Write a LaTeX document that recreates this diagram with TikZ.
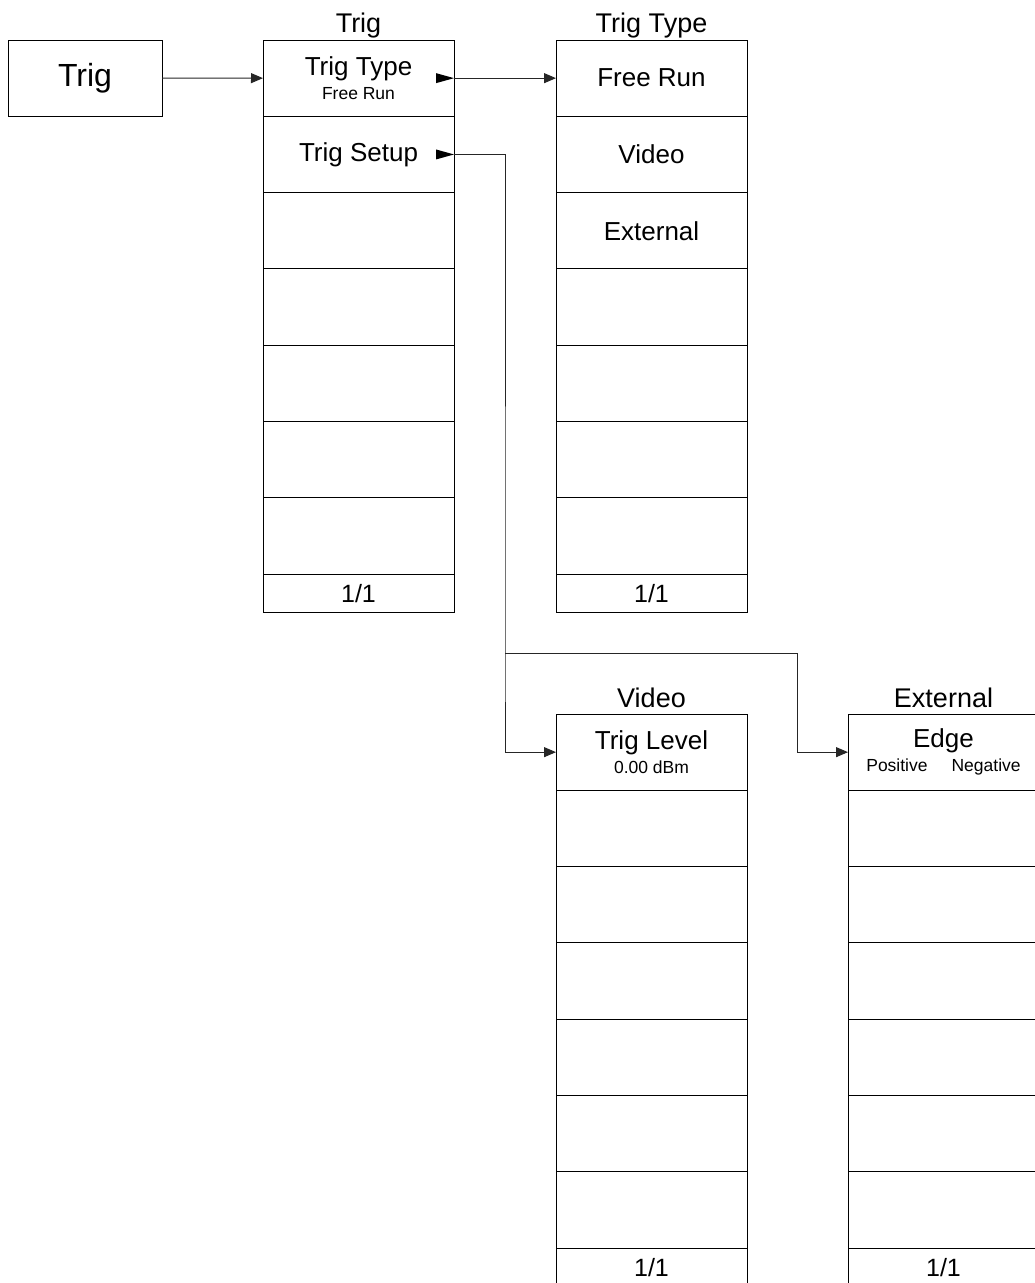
\documentclass[tikz,border=0pt]{standalone}
\usepackage{fontspec}
\setmainfont{Liberation Sans}
\usetikzlibrary{arrows.meta, positioning}
\newcommand\subtxt[1]{{\fontsize{17.5}{18}\selectfont #1}}

\begin{document}
\begin{tikzpicture}[
                x=1pt, y=-1pt,
                cell/.style={rectangle, draw, line width=1pt, minimum width=191pt, minimum height=76.3pt,
                             inner sep=0pt, outer sep=0pt, align=center,
                             font=\fontsize{26}{24}\selectfont},
                foot/.style={cell, minimum height=38pt, font=\fontsize{25}{24}\selectfont},
                key/.style={cell, minimum width=154pt, minimum height=76pt, font=\fontsize{32}{36}\selectfont},
                title/.style={font=\fontsize{27}{28}\selectfont, inner sep=0pt},
                arr/.style={-{Triangle[length=12pt, width=10pt]}, line width=1pt, black!85}
            ]
                \useasboundingbox (0,0) rectangle (1034,1283);

                \node[key, anchor=north west] (trigkey) at (8,40) {Trig};

                \node[cell, anchor=north west] (a1) at (263,40) {Trig Type\\\subtxt{Free Run}};
                \node[cell, below=0pt of a1] (a2) {Trig Setup};
                \foreach \i [evaluate=\i as \j using int(\i-1)] in {3,...,7}
                    \node[cell, below=0pt of a\j] (a\i) {};
                \node[foot, below=0pt of a7] (a8) {1/1};
                \node[title, above=8pt of a1.north, anchor=base] (atitle) {Trig};

                \node[cell, anchor=north west] (b1) at (556,40) {Free Run};
                \node[cell, below=0pt of b1] (b2) {Video};
                \node[cell, below=0pt of b2] (b3) {External};
                \foreach \i [evaluate=\i as \j using int(\i-1)] in {4,...,7}
                    \node[cell, below=0pt of b\j] (b\i) {};
                \node[foot, below=0pt of b7] (b8) {1/1};
                \node[title, above=8pt of b1.north, anchor=base] (btitle) {Trig Type};

                \node[cell, anchor=north west] (c1) at (556,714) {Trig Level\\\subtxt{0.00 dBm}};
                \foreach \i [evaluate=\i as \j using int(\i-1)] in {2,...,7}
                    \node[cell, below=0pt of c\j] (c\i) {};
                \node[foot, below=0pt of c7] (c8) {1/1};
                \node[title, above=7pt of c1.north, anchor=base] (ctitle) {Video};

                \node[cell, anchor=north west] (d1) at (848,714) {Edge\\\subtxt{Positive\hspace{24pt}Negative}};
                \foreach \i [evaluate=\i as \j using int(\i-1)] in {2,...,7}
                    \node[cell, below=0pt of d\j] (d\i) {};
                \node[foot, below=0pt of d7] (d8) {1/1};
                \node[title, above=7pt of d1.north, anchor=base] (dtitle) {External};

                \fill (a1.east) -- ++(-18,-5) -- ++(0,10) -- cycle;
                \fill (a2.east) -- ++(-18,-5) -- ++(0,10) -- cycle;

                \coordinate (split) at (505,653);
                \draw[arr] (trigkey.east) -- (a1.west);
                \draw[arr] (a1.east) -- (b1.west);
                \draw[arr] (a2.east) -| (split) |- (c1.west);
                \draw[arr] (split) -- ++(292,0) |- (d1.west);
            \end{tikzpicture}
\end{document}
